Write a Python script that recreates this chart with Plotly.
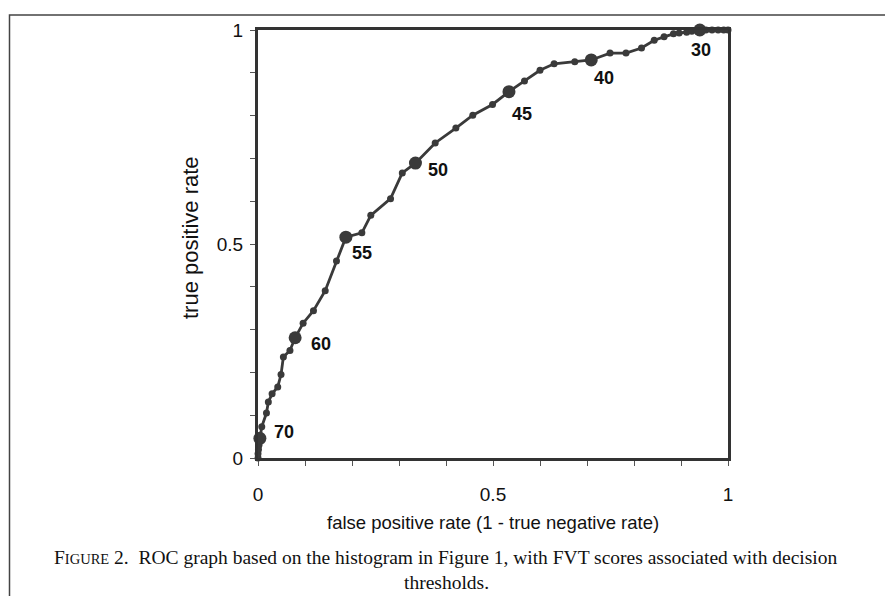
import plotly.graph_objects as go

# ROC curve points (false positive rate, true positive rate), one per FVT score threshold
fpr = [0, 0, 0.001, 0.002, 0.004, 0.008, 0.018, 0.022, 0.030, 0.042, 0.049, 0.054, 0.068,
       0.079, 0.096, 0.118, 0.143, 0.167, 0.187, 0.221, 0.240, 0.282, 0.307, 0.335, 0.377,
       0.421, 0.457, 0.499, 0.534, 0.567, 0.600, 0.630, 0.674, 0.709, 0.749, 0.783, 0.816,
       0.843, 0.864, 0.884, 0.896, 0.912, 0.923, 0.940, 0.953, 0.966, 0.979, 0.991, 1.0]
tpr = [0, 0.010, 0.020, 0.030, 0.046, 0.073, 0.105, 0.131, 0.150, 0.166, 0.195, 0.236, 0.251,
       0.281, 0.315, 0.344, 0.391, 0.460, 0.516, 0.526, 0.567, 0.606, 0.666, 0.689, 0.736,
       0.771, 0.801, 0.826, 0.856, 0.881, 0.906, 0.921, 0.926, 0.930, 0.946, 0.946, 0.958,
       0.976, 0.984, 0.991, 0.993, 0.995, 0.997, 1.0, 1.0, 1.0, 1.0, 1.0, 1.0]

# labelled decision thresholds
label_fpr = [0.004, 0.079, 0.187, 0.335, 0.534, 0.709, 0.940]
label_tpr = [0.046, 0.281, 0.516, 0.689, 0.856, 0.930, 1.0]
label_scores = ["70", "60", "55", "50", "45", "40", "30"]

tick_vals = [0, 0.1, 0.2, 0.3, 0.4, 0.5, 0.6, 0.7, 0.8, 0.9, 1.0]
tick_text = ["0", "", "", "", "", "0.5", "", "", "", "", "1"]

x_title = "false positive rate (1 - true negative rate)"
y_title = "true positive rate"
caption_1 = ("F<span style='font-size:14.5px'>IGURE</span> 2.  ROC graph based on the histogram in "
             "Figure 1, with FVT scores associated with decision")
caption_2 = "thresholds."

# label offsets in pixels (style)
label_shift = [(24, 6), (26, -6), (16, -16), (23, -7), (13, -22), (13, -18), (1, -20)]

LINE = "#3a3a3a"
AX = "#333333"
SANS = "Liberation Sans, Arial"
SERIF = "Liberation Serif, Times New Roman"

# page body has an 8px margin: work in screen pixels and shift into figure pixels
OFF = 8
W, H = 893 - OFF, 596 - OFF
L, R, T, B = 258 - OFF, 728 - OFF, 28 - OFF, 458 - OFF


def px(x):
    return (x - OFF - L) / (R - L)


def py(y):
    return (B - (y - OFF)) / (B - T)


fig = go.Figure()
fig.add_trace(go.Scatter(
    x=fpr, y=tpr, mode="lines+markers",
    line=dict(color=LINE, width=2.8),
    marker=dict(color=LINE, size=7),
    cliponaxis=False, hoverinfo="skip", showlegend=False))
fig.add_trace(go.Scatter(
    x=label_fpr, y=label_tpr, mode="markers",
    marker=dict(color=LINE, size=13),
    cliponaxis=False, hoverinfo="skip", showlegend=False))

for xv, yv, s, (dx, dy) in zip(label_fpr, label_tpr, label_scores, label_shift):
    fig.add_annotation(x=xv, y=yv, xref="x", yref="y", text="<b>" + s + "</b>",
                       showarrow=False, xshift=dx, yshift=dy,
                       xanchor="center", yanchor="middle",
                       font=dict(family=SANS, size=18, color="#111111"))

axis_common = dict(
    range=[0, 1], tickvals=tick_vals, ticktext=tick_text,
    showgrid=False, zeroline=False, showline=True, mirror=True,
    linecolor=AX, linewidth=3, ticks="outside", ticklen=5, tickwidth=1.3,
    tickcolor="#555555",
    tickfont=dict(family=SANS, size=19, color="#111111"),
)
fig.update_xaxes(**axis_common, ticklabelstandoff=12)
fig.update_yaxes(**axis_common, ticklabelstandoff=3)

fig.add_annotation(x=px(493), y=py(523), xref="paper", yref="paper", text=x_title,
                   xanchor="center", yanchor="middle", showarrow=False,
                   font=dict(family=SANS, size=18.5, color="#111111"))
fig.add_annotation(x=px(190), y=py(237), xref="paper", yref="paper", text=y_title, textangle=-90,
                   xanchor="center", yanchor="middle", showarrow=False,
                   font=dict(family=SANS, size=22, color="#111111"))
fig.add_annotation(x=px(446), y=py(558), xref="paper", yref="paper", text=caption_1,
                   xanchor="center", yanchor="middle", showarrow=False,
                   font=dict(family=SERIF, size=19.5, color="#111111"))
fig.add_annotation(x=px(446), y=py(583), xref="paper", yref="paper", text=caption_2,
                   xanchor="center", yanchor="middle", showarrow=False,
                   font=dict(family=SERIF, size=19.5, color="#111111"))

# outer figure frame (left and top edges)
fig.add_shape(type="path", xref="paper", yref="paper",
              path=f"M {px(9.5)} {py(600)} L {px(9.5)} {py(13)} L {px(900)} {py(13)}",
              line=dict(color="#444444", width=1.5))

fig.update_layout(
    width=W, height=H,
    margin=dict(l=L, r=W - R, t=T, b=H - B),
    paper_bgcolor="white", plot_bgcolor="white",
)

fig.write_html("out.html")
